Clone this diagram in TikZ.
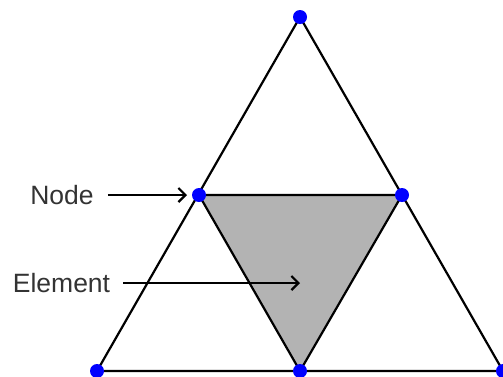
\documentclass[tikz,border=0pt]{standalone}
\usepackage{fontspec}
\setmainfont{Liberation Sans}
\usetikzlibrary{arrows.meta}
\definecolor{elgray}{RGB}{179,179,179}
\tikzset{
  edge/.style={draw=black, line width=2.2pt, line join=round},
  dot/.style={circle, fill=blue, inner sep=0pt, minimum size=14pt},
  lbl/.style={font=\fontsize{26.5}{30}\selectfont, inner sep=0pt, text=black!80},
  pointer/.style={-{Straight Barb[length=7pt,width=14pt]}, line width=2.2pt}
}
\begin{document}
\begin{tikzpicture}[x=1pt,y=-1pt]
\useasboundingbox (0,0) rectangle (503,376);
\clip (0,0) rectangle (503,376);
\coordinate (T) at (300,17);
\coordinate (BL) at (97,371);
\coordinate (BR) at (503,371);
\coordinate (ML) at (199,195);
\coordinate (MR) at (402,195);
\coordinate (MB) at (300,371);
\fill[elgray] (ML) -- (MR) -- (MB) -- cycle;
\draw[edge] (T) -- (BL) -- (BR) -- cycle;
\draw[edge] (ML) -- (MR) -- (MB) -- cycle;
\node[lbl] (nodelbl) at (62,195) {Node};
\node[lbl] (ellbl) at (61.5,283) {Element};
\coordinate (elend) at (300,283);
\draw[pointer] ([xshift=14pt]nodelbl.east) -- ([xshift=-12pt]ML);
\draw[pointer] ([xshift=13pt]ellbl.east) -- (elend);
\foreach \p in {T,BL,BR,ML,MR,MB} \node[dot] (d\p) at (\p) {};
\end{tikzpicture}
\end{document}
